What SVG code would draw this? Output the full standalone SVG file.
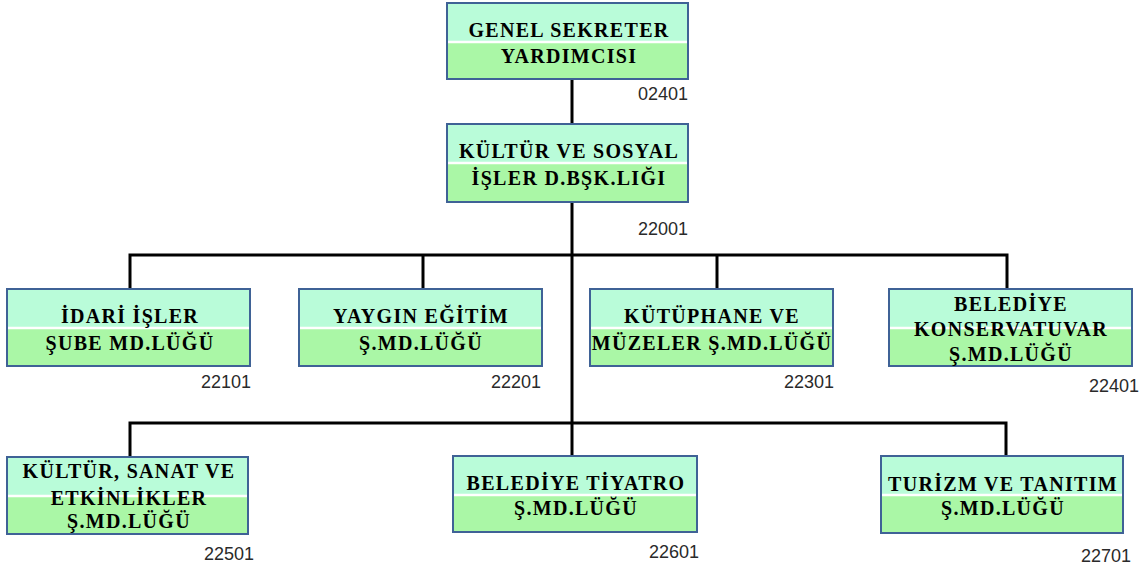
<svg xmlns="http://www.w3.org/2000/svg" width="1145" height="567" viewBox="0 0 1145 567">
<style>
.top{fill:#b9fcd9}
.bot{fill:#aaf7a6}
.sep{stroke:#ffffff;stroke-width:2.5}
.frame{fill:none;stroke:#3f6296;stroke-width:2}
.t{font-family:"Liberation Serif","DejaVu Serif",serif;font-weight:bold;font-size:20px;letter-spacing:1.3px;fill:#000;text-anchor:middle}
.code{font-family:"Liberation Sans",Arial,sans-serif;font-size:18px;fill:#2a2a2a;text-anchor:end}
.conn{stroke:#000;stroke-width:3;fill:none}
</style>
<rect width="1145" height="567" fill="#ffffff"/>
<g id="connectors">
<line class="conn" x1="572" y1="79" x2="572" y2="124"/>
<line class="conn" x1="572" y1="202" x2="572" y2="456"/>
<polyline class="conn" points="130,289 130,255 1007,255 1007,289"/>
<line class="conn" x1="423" y1="255" x2="423" y2="289"/>
<line class="conn" x1="717" y1="255" x2="717" y2="289"/>
<polyline class="conn" points="130,457 130,423 1006,423 1006,456"/>
</g>
<g id="n02401">
<rect class="top" x="447" y="3" width="241" height="39"/>
<rect class="bot" x="447" y="42" width="241" height="37"/>
<line class="sep" x1="448" y1="42" x2="687" y2="42"/>
<rect class="frame" x="447" y="3" width="241" height="76"/>
<text class="t" x="569" y="37">GENEL SEKRETER</text>
<text class="t" x="569" y="63">YARDIMCISI</text>
<text class="code" x="688" y="100">02401</text>
</g>
<g id="n22001">
<rect class="top" x="447" y="124" width="241" height="39"/>
<rect class="bot" x="447" y="163" width="241" height="39"/>
<line class="sep" x1="448" y1="163" x2="687" y2="163"/>
<rect class="frame" x="447" y="124" width="241" height="78"/>
<text class="t" x="569" y="158">KÜLTÜR  VE SOSYAL</text>
<text class="t" x="569" y="185">İŞLER D.BŞK.LIĞI</text>
<text class="code" x="688" y="235">22001</text>
</g>
<g id="n22101">
<rect class="top" x="7" y="289" width="243" height="39"/>
<rect class="bot" x="7" y="328" width="243" height="38"/>
<line class="sep" x1="8" y1="328" x2="249" y2="328"/>
<rect class="frame" x="7" y="289" width="243" height="77"/>
<text class="t" x="130" y="323">İDARİ İŞLER</text>
<text class="t" x="130" y="350">ŞUBE MD.LÜĞÜ</text>
<text class="code" x="251" y="388">22101</text>
</g>
<g id="n22201">
<rect class="top" x="299" y="289" width="243" height="39"/>
<rect class="bot" x="299" y="328" width="243" height="38"/>
<line class="sep" x1="300" y1="328" x2="541" y2="328"/>
<rect class="frame" x="299" y="289" width="243" height="77"/>
<text class="t" x="421" y="323">YAYGIN  EĞİTİM</text>
<text class="t" x="421" y="350">Ş.MD.LÜĞÜ</text>
<text class="code" x="541" y="388">22201</text>
</g>
<g id="n22301">
<rect class="top" x="590" y="289" width="243" height="39"/>
<rect class="bot" x="590" y="328" width="243" height="38"/>
<line class="sep" x1="591" y1="328" x2="832" y2="328"/>
<rect class="frame" x="590" y="289" width="243" height="77"/>
<text class="t" x="712" y="323">KÜTÜPHANE  VE</text>
<text class="t" x="712" y="350">MÜZELER Ş.MD.LÜĞÜ</text>
<text class="code" x="834" y="388">22301</text>
</g>
<g id="n22401">
<rect class="top" x="889" y="289" width="243" height="39"/>
<rect class="bot" x="889" y="328" width="243" height="38"/>
<line class="sep" x1="890" y1="328" x2="1131" y2="328"/>
<rect class="frame" x="889" y="289" width="243" height="77"/>
<text class="t" x="1011" y="311">BELEDİYE</text>
<text class="t" x="1011" y="336">KONSERVATUVAR</text>
<text class="t" x="1011" y="361">Ş.MD.LÜĞÜ</text>
<text class="code" x="1139" y="392">22401</text>
</g>
<g id="n22501">
<rect class="top" x="7" y="457" width="241" height="39"/>
<rect class="bot" x="7" y="496" width="241" height="38"/>
<line class="sep" x1="8" y1="496" x2="247" y2="496"/>
<rect class="frame" x="7" y="457" width="241" height="77"/>
<text class="t" x="129" y="478">KÜLTÜR,  SANAT  VE</text>
<text class="t" x="129" y="505">ETKİNLİKLER</text>
<text class="t" x="129" y="528">Ş.MD.LÜĞÜ</text>
<text class="code" x="254" y="560">22501</text>
</g>
<g id="n22601">
<rect class="top" x="453" y="456" width="244" height="39"/>
<rect class="bot" x="453" y="495" width="244" height="37"/>
<line class="sep" x1="454" y1="495" x2="696" y2="495"/>
<rect class="frame" x="453" y="456" width="244" height="76"/>
<text class="t" x="576" y="490">BELEDİYE TİYATRO</text>
<text class="t" x="576" y="515">Ş.MD.LÜĞÜ</text>
<text class="code" x="699" y="558">22601</text>
</g>
<g id="n22701">
<rect class="top" x="881" y="456" width="242" height="39"/>
<rect class="bot" x="881" y="495" width="242" height="38"/>
<line class="sep" x1="882" y1="495" x2="1122" y2="495"/>
<rect class="frame" x="881" y="456" width="242" height="77"/>
<text class="t" x="1003" y="491">TURİZM  VE TANITIM</text>
<text class="t" x="1003" y="515">Ş.MD.LÜĞÜ</text>
<text class="code" x="1131" y="562">22701</text>
</g>
</svg>
